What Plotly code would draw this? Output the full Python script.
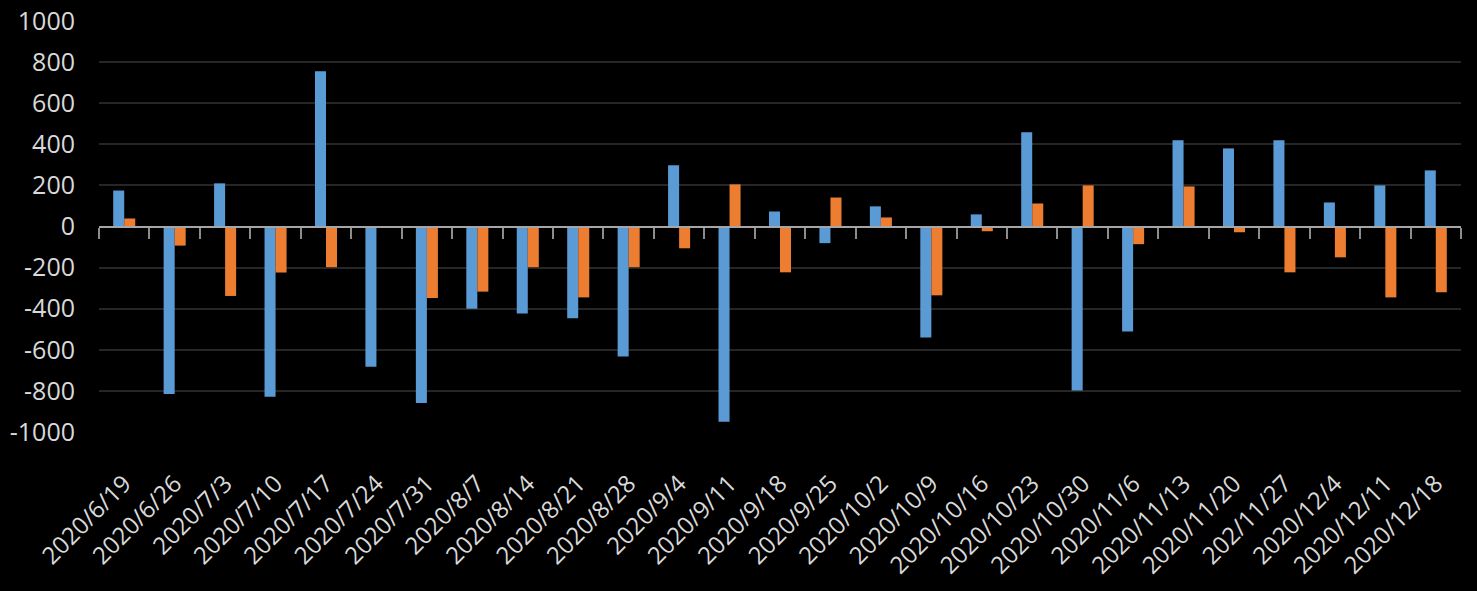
import plotly.graph_objects as go

dates = ["2020/6/19", "2020/6/26", "2020/7/3", "2020/7/10", "2020/7/17", "2020/7/24",
         "2020/7/31", "2020/8/7", "2020/8/14", "2020/8/21", "2020/8/28", "2020/9/4",
         "2020/9/11", "2020/9/18", "2020/9/25", "2020/10/2", "2020/10/9", "2020/10/16",
         "2020/10/23", "2020/10/30", "2020/11/6", "2020/11/13", "2020/11/20", "202/11/27",
         "2020/12/4", "2020/12/11", "2020/12/18"]
blue = [175, -815, 210, -829, 756, -683, -859, -400, -423, -447, -633, 298, -950, 73, -81,
        98, -540, 59, 459, -798, -511, 420, 380, 420, 117, 200, 273]
orange = [39, -93, -338, -224, -198, 0, -348, -317, -198, -345, -198, -106, 205, -223, 141,
          44, -335, -23, 112, 200, -86, 195, -28, -223, -150, -345, -320]
y_ticks = [-1000, -800, -600, -400, -200, 0, 200, 400, 600, 800, 1000]

n = len(dates)
fig = go.Figure()
fig.add_trace(go.Bar(x=dates, y=blue, name="A", marker=dict(color="#5b9bd5", line=dict(width=0))))
fig.add_trace(go.Bar(x=dates, y=orange, name="B", marker=dict(color="#ed7d31", line=dict(width=0))))

font = "Open Sans"
fig.update_layout(
    width=1477, height=591,
    paper_bgcolor="#000000", plot_bgcolor="#000000",
    margin=dict(l=99, r=16, t=21, b=159, autoexpand=False),
    showlegend=False,
    barmode="group", bargap=0.563, bargroupgap=0,
    xaxis=dict(type="category", categoryarray=dates, range=[-0.5, n - 0.5],
               automargin=False,
               tickangle=-45, showgrid=False, zeroline=False, showline=False,
               ticks="outside", ticklen=27, tickcolor="rgba(0,0,0,0)",
               tickfont=dict(family=font, size=24, color="#d9d9d9")),
    xaxis2=dict(overlaying="x", anchor="free", position=0.5, type="linear",
                automargin=False,
                range=[-0.5, n - 0.5], tickmode="array",
                tickvals=[k - 0.5 for k in range(n + 1)], showticklabels=False,
                ticks="outside", ticklen=11, tickwidth=2, tickcolor="#8c8c8c",
                showline=True, linecolor="#a6a6a6", linewidth=2,
                showgrid=False, zeroline=False),
    yaxis=dict(range=[-1000, 1000], tickmode="array", tickvals=y_ticks,
               ticktext=[str(v) for v in y_ticks], automargin=False,
               showgrid=True, gridcolor="#262626", gridwidth=2, zeroline=False,
               ticks="outside", ticklen=18, tickcolor="rgba(0,0,0,0)",
               tickfont=dict(family=font, size=25, color="#d9d9d9")),
)
fig.add_trace(go.Scatter(x=[0], y=[0], xaxis="x2", mode="markers", opacity=0,
                         hoverinfo="skip", showlegend=False))
fig.write_html("out.html", config={"displayModeBar": False},
               post_script="document.body.style.margin='0';document.body.style.background='#000';")
